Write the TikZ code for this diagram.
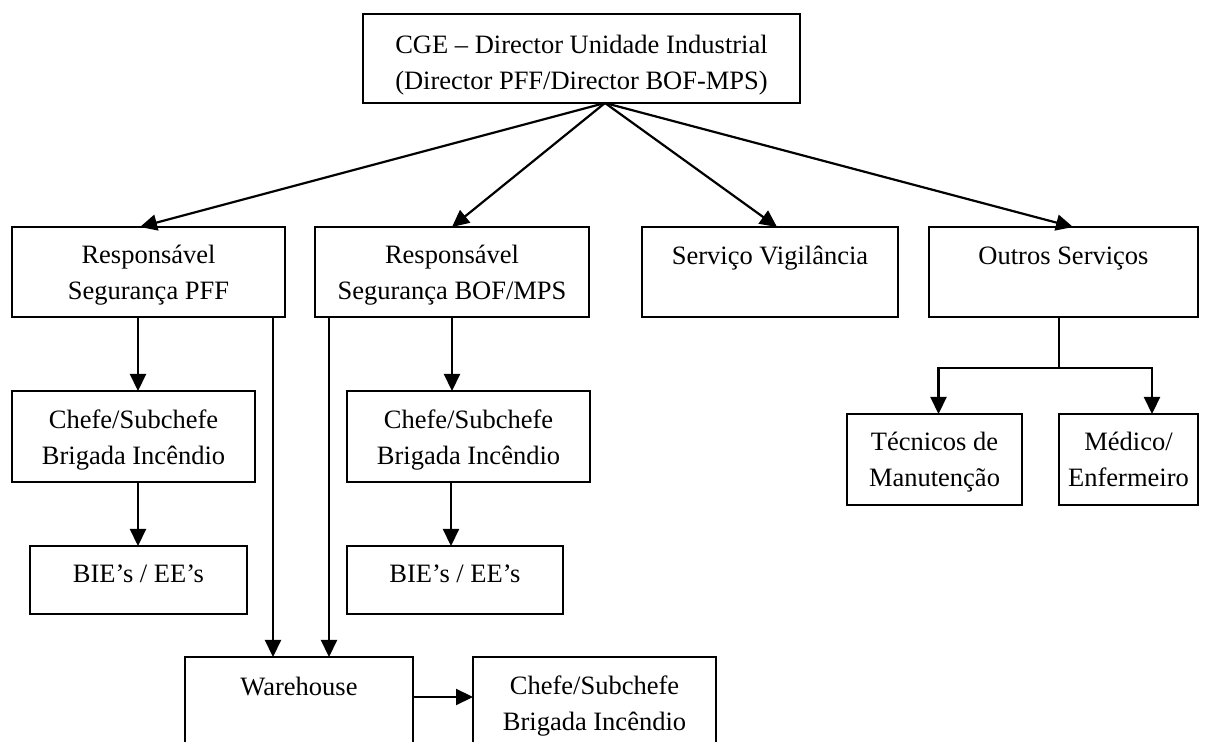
\documentclass[tikz,border=0pt]{standalone}
\usepackage{fontspec}
\setmainfont{Liberation Serif}
\usetikzlibrary{arrows.meta}
\begin{document}
\begin{tikzpicture}[x=0.5pt,y=-0.5pt,
  box/.style={draw, line width=1pt, rectangle, anchor=north west,
    inner sep=0pt, outer sep=0pt},
  lbl/.style={anchor=north, align=center, inner sep=0pt,
    font=\fontsize{13.25}{18}\selectfont,
    execute at begin node=\rule{0pt}{11pt}},
  arr/.style={line width=1.1pt, -{Triangle[length=8.5pt,width=8pt]}},
  link/.style={line width=1.1pt}]

\clip (0,0) rectangle (1222,742);
\fill[white] (0,0) rectangle (1222,742);

% boxes
\node[box, minimum width=218.5pt, minimum height=44.5pt] (cge) at (363,14) {};
\node[box, minimum width=136.5pt, minimum height=45pt] (pff) at (12,227) {};
\node[box, minimum width=137pt, minimum height=45pt] (bof) at (315,227) {};
\node[box, minimum width=128pt, minimum height=45pt] (vig) at (642,227) {};
\node[box, minimum width=134.5pt, minimum height=45pt] (out) at (929,227) {};
\node[box, minimum width=121.5pt, minimum height=45.5pt] (chefeA) at (12,391) {};
\node[box, minimum width=121.5pt, minimum height=45.5pt] (chefeB) at (347,391) {};
\node[box, minimum width=108.5pt, minimum height=34pt] (bieA) at (30,546) {};
\node[box, minimum width=108pt, minimum height=34pt] (bieB) at (347,546) {};
\node[box, minimum width=114pt, minimum height=45.5pt] (wh) at (185,657) {};
\node[box, minimum width=121.5pt, minimum height=45.5pt] (chefeC) at (473,657) {};
\node[box, minimum width=87.5pt, minimum height=45.5pt] (tec) at (847,414) {};
\node[box, minimum width=69.5pt, minimum height=45.5pt] (med) at (1059,414) {};

% box texts
\node[lbl] (cge-t) at ([yshift=-10.5pt]cge.north) {CGE – Director Unidade Industrial\\(Director PFF/Director BOF-MPS)};
\node[lbl] (pff-t) at ([yshift=-9pt]pff.north) {Responsável\\Segurança PFF};
\node[lbl] (bof-t) at ([yshift=-9pt]bof.north) {Responsável\\Segurança BOF/MPS};
\node[lbl] (vig-t) at ([yshift=-7.5pt]vig.north) {Serviço Vigilância};
\node[lbl] (out-t) at ([yshift=-7.5pt]out.north) {Outros Serviços};
\node[lbl] (chefeA-t) at ([yshift=-9pt]chefeA.north) {Chefe/Subchefe\\Brigada Incêndio};
\node[lbl] (chefeB-t) at ([yshift=-9pt]chefeB.north) {Chefe/Subchefe\\Brigada Incêndio};
\node[lbl] (bieA-t) at ([yshift=-7pt]bieA.north) {BIE’s / EE’s};
\node[lbl] (bieB-t) at ([yshift=-7pt]bieB.north) {BIE’s / EE’s};
\node[lbl] (wh-t) at ([yshift=-8pt]wh.north) {Warehouse};
\node[lbl] (chefeC-t) at ([yshift=-9pt]chefeC.north) {Chefe/Subchefe\\Brigada Incêndio};
\node[lbl] (tec-t) at ([yshift=-9pt]tec.north) {Técnicos de\\Manutenção};
\node[lbl] (med-t) at ([yshift=-9pt]med.north) {Médico/\\Enfermeiro};

% fan-out from the director box
\coordinate (hub) at ([xshift=11.75pt]cge.south);
\draw[arr] (hub) -- ([xshift=-4.25pt]pff.north);
\draw[arr] (hub) -- (bof.north);
\draw[arr] (hub) -- ([xshift=3.5pt]vig.north);
\draw[arr] (hub) -- ([xshift=4.75pt]out.north);

% PFF branch
\draw[arr] ([xshift=-5.25pt]pff.south) -- ([xshift=-5.25pt]pff.south |- chefeA.north);
\draw[arr] ([xshift=2.25pt]chefeA.south) -- ([xshift=2.25pt]chefeA.south |- bieA.north);
\draw[arr] ([xshift=-6pt]pff.south east) -- ([xshift=-6pt]pff.south east |- wh.north);

% BOF/MPS branch
\draw[arr] ([xshift=7pt]bof.south west) -- ([xshift=7pt]bof.south west |- wh.north);
\draw[arr] (bof.south) -- (bof.south |- chefeB.north);
\draw[arr] ([xshift=-8.75pt]chefeB.south) -- ([xshift=-8.75pt]chefeB.south |- bieB.north);

% warehouse
\draw[arr] ([yshift=-20pt]wh.north east) -- ([yshift=-20pt]wh.north east -| chefeC.west);

% other services
\coordinate (split) at ([xshift=-2.25pt,yshift=-25.5pt]out.south);
\draw[link] ([xshift=-2.25pt]out.south) -- (split);
\draw[arr] (split) -| ([xshift=2pt]tec.north);
\draw[arr] (split) -| ([xshift=11.75pt]med.north);
\end{tikzpicture}
\end{document}
